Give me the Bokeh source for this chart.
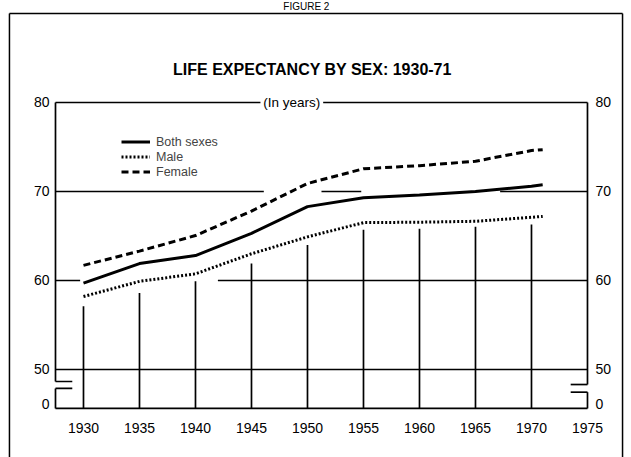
from bokeh.plotting import figure
from bokeh.models import Range1d, LinearAxis, FixedTicker, Legend, LegendItem
from bokeh.core.properties import value
from bokeh.embed import file_html
from bokeh.resources import INLINE

# ---------------- data ----------------
years = [1930, 1935, 1940, 1945, 1950, 1955, 1960, 1965, 1970, 1971]
both_sexes = [59.7, 61.9, 62.8, 65.3, 68.3, 69.3, 69.6, 70.0, 70.6, 70.75]
male = [58.2, 59.9, 60.75, 63.0, 64.9, 66.5, 66.55, 66.65, 67.1, 67.2]
female = [61.7, 63.3, 65.05, 67.8, 70.9, 72.55, 72.9, 73.4, 74.6, 74.7]

x_ticks = [1930, 1935, 1940, 1945, 1950, 1955, 1960, 1965, 1970, 1975]
y_ticks = [0, 50, 60, 70, 80]

figure_text = "FIGURE 2"
title_text = "LIFE EXPECTANCY BY SEX: 1930-71"
unit_text = "(In years)"

# drop-lines (vertical grid) reach up to just under the curves
vgrid_years = [1930, 1935, 1940, 1945, 1950, 1955, 1960, 1965, 1970]
vgrid_tops = [57.1, 58.6, 59.9, 61.9, 64.0, 65.7, 65.8, 66.05, 66.3]

# horizontal grid pieces: (level, from year, to year)
hgrid = [(70, 1927.5, 1946.1), (70, 1951.25, 1954.8), (70, 1967.2, 1975),
         (60, 1927.5, 1929.7), (60, 1942.0, 1975),
         (50, 1927.5, 1975)]

# ---------------- layout helpers ----------------
AX_L, AX_R = 1927.5, 1975.0
ZERO_POS = 45.62          # where "0" sits on the broken axis
ZERO_LABEL_LIFT = 0.55    # the "0" label sits a little above the base line
BOX_L, BOX_R, BOX_T = 1923.39, 1978.13, 90.0


def ypos(v):
    return v if v >= 50 else ZERO_POS + v * (50 - ZERO_POS) / 50.0


def ylabel_pos(v):
    return ypos(v) + (ZERO_LABEL_LIFT if v == 0 else 0)


FONT = "Liberation Sans"
X0, X1 = 1922.59, 1978.93
Y0, Y1 = 40.11, 91.46

p = figure(width=631, height=457, output_backend="svg", toolbar_location=None,
           x_range=Range1d(X0, X1), y_range=Range1d(Y0, Y1),
           x_axis_location=None, y_axis_location=None,
           min_border_left=0, min_border_right=0,
           min_border_top=0, min_border_bottom=0)
p.outline_line_color = None
p.xgrid.visible = False
p.ygrid.visible = False
p.background_fill_color = "white"
p.border_fill_color = "white"

ytick_pos = [ylabel_pos(v) for v in y_ticks]
overrides = {ylabel_pos(v): str(v) for v in y_ticks}


def style_axis(ax, standoff):
    ax.axis_line_color = None
    ax.major_tick_line_color = None
    ax.minor_tick_line_color = None
    ax.major_tick_in = 0
    ax.major_tick_out = 0
    ax.major_label_standoff = standoff
    ax.major_label_text_font = FONT
    ax.major_label_text_font_size = "14px"
    ax.major_label_text_color = "black"


yl = LinearAxis(ticker=FixedTicker(ticks=ytick_pos), major_label_overrides=overrides,
                fixed_location=AX_L)
style_axis(yl, 6)
p.add_layout(yl, "left")
yr = LinearAxis(ticker=FixedTicker(ticks=ytick_pos), major_label_overrides=overrides,
                fixed_location=AX_R)
style_axis(yr, 8)
p.add_layout(yr, "right")
xb = LinearAxis(ticker=FixedTicker(ticks=x_ticks), fixed_location=ZERO_POS)
style_axis(xb, 15)
p.add_layout(xb, "below")

LW = 1.7
# grid pieces
p.segment(x0=vgrid_years, y0=[ypos(0)] * len(vgrid_years), x1=vgrid_years,
          y1=vgrid_tops, line_color="black", line_width=LW)
p.segment(x0=[h[1] for h in hgrid], y0=[h[0] for h in hgrid],
          x1=[h[2] for h in hgrid], y1=[h[0] for h in hgrid],
          line_color="black", line_width=LW)

# frame: top line with a gap for the unit text, bottom, broken side axes
brk_l = (48.65, 47.87)
brk_r = (48.31, 47.45)
p.segment(x0=[AX_L, 1951.4, AX_L, AX_L, AX_L, AX_R, AX_R],
          y0=[80, 80, ypos(0), ypos(0), brk_l[0], ypos(0), brk_r[0]],
          x1=[1945.8, AX_R, AX_R, AX_L, AX_L, AX_R, AX_R],
          y1=[80, 80, ypos(0), brk_l[1], 80, brk_r[1], 80],
          line_color="black", line_width=LW)
# break marks
p.segment(x0=[AX_L, AX_L, 1973.5, 1973.5], y0=[brk_l[0], brk_l[1], brk_r[0], brk_r[1]],
          x1=[1929.0, 1929.0, AX_R, AX_R], y1=[brk_l[0], brk_l[1], brk_r[0], brk_r[1]],
          line_color="black", line_width=LW)

# outer box of the page (open at the bottom)
p.segment(x0=[BOX_L, BOX_L, BOX_R], y0=[Y0, BOX_T, BOX_T],
          x1=[BOX_L, BOX_R, BOX_R], y1=[BOX_T, BOX_T, Y0],
          line_color="black", line_width=1.5)

p.text(x=[1948.6], y=[80], text=[unit_text], text_align="center",
       text_baseline="middle", text_font=value(FONT),
       text_font_size="13.5px", text_color="black")
p.text(x=[1950.45], y=[83.71], text=[title_text], text_align="center",
       text_baseline="middle", text_font=value(FONT), text_font_style="bold",
       text_font_size="16px", text_color="black")
p.text(x=[1949.9], y=[90.75], text=[figure_text], text_align="center",
       text_baseline="middle", text_font=value(FONT),
       text_font_size="10px", text_color="black")

# series
r_both = p.line(years, both_sexes, line_color="black", line_width=3)
r_male = p.line(years, male, line_color="black", line_width=3, line_dash="2 2")
r_female = p.line(years, female, line_color="black", line_width=3, line_dash="7 4")

legend = Legend(items=[LegendItem(label="Both sexes", renderers=[r_both]),
                       LegendItem(label="Male", renderers=[r_male]),
                       LegendItem(label="Female", renderers=[r_female])],
                location=(121, 278), glyph_width=29, glyph_height=15,
                label_height=15, spacing=0, padding=0, margin=0,
                border_line_color=None, background_fill_alpha=0,
                label_text_font=FONT, label_text_font_size="12.5px",
                label_standoff=6)
p.add_layout(legend)

open("out.html", "w").write(file_html(p, INLINE))
